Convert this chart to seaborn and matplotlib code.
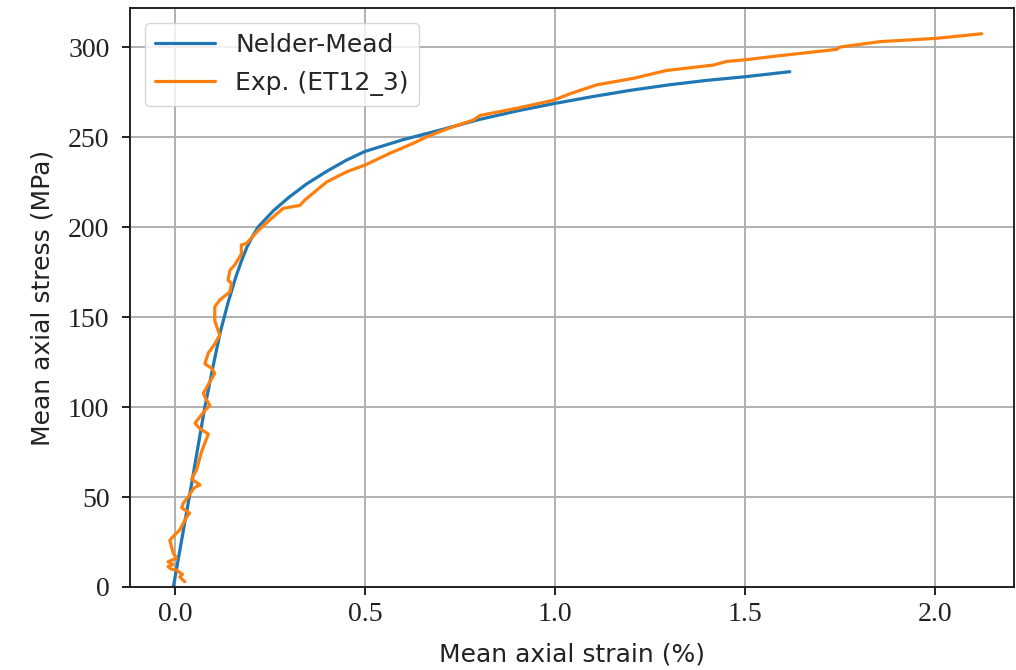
import matplotlib
matplotlib.use("Agg")
import matplotlib.pyplot as plt
import seaborn as sns
import pandas as pd

# Nelder-Mead fitted curve (strain %, stress MPa)
nm_strain = [-0.004, 0.038, 0.079, 0.10, 0.12, 0.14, 0.16, 0.175, 0.19, 0.205, 0.219,
             0.259, 0.30, 0.347, 0.40, 0.45, 0.50, 0.60, 0.70, 0.80, 0.90, 1.00,
             1.10, 1.20, 1.30, 1.40, 1.50, 1.618]
nm_stress = [0.0, 50.0, 100.0, 122.0, 142.0, 158.0, 172.0, 181.0, 189.0, 195.0, 200.0,
             209.0, 216.5, 224.0, 231.0, 237.0, 242.0, 248.5, 254.0, 259.7, 264.5, 268.7,
             272.5, 276.0, 279.0, 281.5, 283.5, 286.3]

# Experimental curve ET12_3
exp_strain = [0.026, 0.018, 0.013, 0.020, 0.004, -0.010, -0.018, -0.005, -0.018, 0.004,
              -0.004, -0.009, -0.013, 0.000, 0.013, 0.022, 0.031, 0.039, 0.018, 0.022,
              0.035, 0.050, 0.066, 0.044, 0.057, 0.070, 0.088, 0.066, 0.053, 0.075,
              0.092, 0.083, 0.075, 0.092, 0.105, 0.097, 0.079, 0.088, 0.105, 0.118,
              0.105, 0.105, 0.118, 0.145, 0.149, 0.140, 0.145, 0.158, 0.175, 0.175,
              0.189, 0.219, 0.250, 0.285, 0.329, 0.342, 0.399, 0.452, 0.500, 0.566,
              0.627, 0.662, 0.697, 0.732, 0.785, 0.803, 0.900, 0.997, 1.039, 1.110,
              1.206, 1.294, 1.417, 1.452, 1.504, 1.583, 1.741, 1.750, 1.855, 2.000,
              2.030, 2.123]
exp_stress = [3.0, 4.5, 5.7, 7.0, 9.4, 10.0, 11.3, 12.5, 14.0, 16.0,
              18.7, 22.4, 26.0, 29.0, 31.7, 35.4, 39.0, 41.0, 44.0, 46.5,
              50.0, 55.0, 56.7, 60.0, 65.0, 75.0, 85.0, 88.0, 91.0, 97.0,
              101.0, 104.0, 107.6, 114.0, 118.7, 121.5, 124.0, 130.0, 135.0, 140.0,
              148.0, 155.7, 159.4, 164.0, 168.7, 170.5, 176.0, 179.0, 185.0, 190.0,
              191.0, 198.0, 204.0, 210.4, 212.0, 215.0, 225.0, 230.7, 234.4, 241.0,
              246.5, 250.0, 253.0, 255.7, 259.4, 262.0, 266.0, 270.5, 274.0, 279.0,
              282.6, 287.0, 290.0, 292.0, 293.0, 295.0, 298.7, 300.0, 303.0, 304.8,
              305.4, 307.4]

x_ticks = [0.0, 0.5, 1.0, 1.5, 2.0]
x_ticklabels = ["0.0", "0.5", "1.0", "1.5", "2.0"]
y_ticks = [0, 50, 100, 150, 200, 250, 300]
y_ticklabels = ["0", "50", "100", "150", "200", "250", "300"]

sns.set_theme(style="ticks")
plt.rcParams['font.family'] = ['DejaVu Sans']

df_nm = pd.DataFrame({"strain": nm_strain, "stress": nm_stress})
df_exp = pd.DataFrame({"strain": exp_strain, "stress": exp_stress})

fig = plt.figure(figsize=(10.16, 6.70), dpi=100)
ax = fig.add_axes([130/1016, 83/670, 884/1016, 579/670])

sns.lineplot(data=df_nm, x="strain", y="stress", sort=False, estimator=None,
             color="#1f77b4", lw=2.3, label="Nelder-Mead", ax=ax)
sns.lineplot(data=df_exp, x="strain", y="stress", sort=False, estimator=None,
             color="#ff7f0e", lw=2.3, label="Exp. (ET12_3)", ax=ax)

ax.set_xlim(-0.118, 2.208)
ax.set_ylim(0, 321.7)
ax.set_xticks(x_ticks)
ax.set_xticklabels(x_ticklabels, family="Liberation Serif", fontsize=20)
ax.set_yticks(y_ticks)
ax.set_yticklabels(y_ticklabels, family="Liberation Serif", fontsize=20)
ax.grid(True, color="#b0b0b0", lw=1.4)
ax.set_axisbelow(True)
for s in ax.spines.values():
    s.set_color("#222222")
    s.set_linewidth(1.4)
ax.tick_params(colors="#222222", width=1.4, length=5.8, direction="out")
ax.tick_params(axis="x", pad=5)
ax.tick_params(axis="y", pad=9)

ax.set_xlabel("Mean axial strain (%)", fontsize=18, color="#222222", labelpad=11)
ax.set_ylabel("Mean axial stress (MPa)", fontsize=18, color="#222222", labelpad=10)

leg = ax.legend(loc="upper left", fontsize=18, frameon=True, fancybox=True,
                framealpha=0.8, edgecolor="#cccccc", borderaxespad=0.6,
                handlelength=2.4, handletextpad=0.8, labelspacing=0.55)

fig.savefig("out.png", dpi=100)
